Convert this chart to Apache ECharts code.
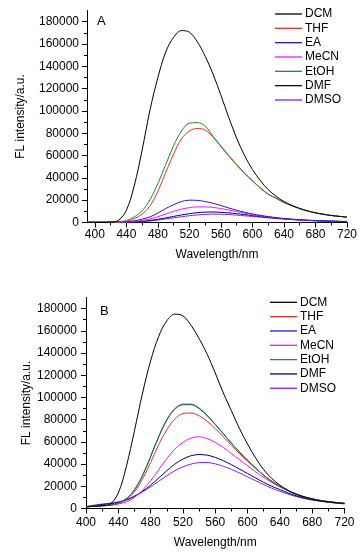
<!DOCTYPE html>
<html>
<head>
<meta charset="utf-8">
<script src="https://cdn.jsdelivr.net/npm/echarts@6/dist/echarts.min.js"></script>
<style>
html,body{margin:0;padding:0;background:#fff;}
#c{width:364px;height:555px;}
</style>
</head>
<body>
<div id="c"></div>
<script>
// ---------- Data ----------
const names = ['DCM', 'THF', 'EA', 'MeCN', 'EtOH', 'DMF', 'DMSO'];
const colors = ['#000000', '#e8302e', '#1c1cd0', '#ff10ff', '#1f8a2a', '#00007a', '#8a1cf0'];

// Panel A wavelengths (nm)
const wlA = [390,400,410,420,430,440,450,460,470,480,490,500,510,520,530,540,550,560,570,580,590,600,610,620,630,640,650,660,670,680,690,700,710,720];
const A_DCM  = [0,0,0,200,2000,11000,33000,65000,101000,130000,153000,166000,172000,170500,162000,149000,133000,114000,94000,75500,60000,47500,37500,29500,23500,18800,15300,12600,10400,8700,7400,6300,5500,4800];
const A_THF  = [0,0,0,0,300,1000,3500,7500,15000,28000,45000,61500,75000,82000,84300,82800,76500,68000,59500,51500,44000,37200,30800,25300,21600,17800,15000,12400,10300,8500,7300,6200,5500,4800];
const A_EA   = [300,400,400,500,600,700,1500,3000,5000,8500,12500,16000,18800,20000,19800,18800,17200,15200,13000,11000,9200,7700,6400,5300,4400,3600,3000,2500,2100,1800,1500,1300,1100,1000];
const A_MeCN = [200,300,300,300,300,400,900,1800,3200,5200,7700,10000,12000,13300,14000,14000,13500,12500,11200,9800,8400,7100,6000,5000,4100,3400,2800,2300,1900,1600,1300,1100,950,800];
const A_EtOH = [0,0,0,0,500,1800,5000,10500,20500,35000,52000,69000,82000,89000,89500,86400,77200,68500,60000,52000,44300,37500,31000,25500,21800,18000,15200,12500,10400,8600,7400,6300,5600,4900];
const A_DMF  = [200,200,200,200,200,200,500,1000,1800,2900,4100,5500,6800,7900,8800,9300,9400,9100,8600,7900,7100,6200,5400,4600,3900,3300,2800,2300,1900,1600,1300,1100,950,800];
const A_DMSO = [200,200,200,200,200,200,400,800,1400,2200,3200,4200,5200,6100,6800,7300,7500,7400,7100,6600,6000,5400,4800,4200,3600,3100,2600,2200,1900,1600,1300,1100,950,800];

// Panel B wavelengths (nm)
const wlB = [400,410,420,430,440,450,460,470,480,490,500,510,520,530,540,550,560,570,580,590,600,610,620,630,640,650,660,670,680,690,700,710,720];
const B_DCM  = [1500,2000,2500,4000,14000,38000,70000,104000,133000,155000,169000,175000,173500,165000,153000,139000,122000,104000,88000,72000,58000,45500,35000,27000,21000,16500,13000,10500,8500,7000,6000,5200,4500];
const B_THF  = [1500,2000,2500,3000,4500,8000,15000,26500,41500,57500,71000,80500,85500,86000,83500,78500,72000,64500,57000,49500,42500,36000,30000,24500,20000,16000,13000,10500,8700,7300,6200,5400,4700];
const B_EA   = [1500,2000,2500,3000,5000,9000,16800,29500,46500,64500,79500,89500,93500,93500,90000,83600,75600,67200,58700,50800,43300,36400,29900,24400,19900,15900,12900,10400,8600,7200,6100,5300,4600];
const B_MeCN = [1500,2000,2500,3000,4000,6000,10000,16500,25000,35000,45000,53500,59500,63500,64500,63000,59500,55000,49500,44000,38500,33000,28000,23500,19500,16000,13000,10500,8700,7300,6200,5300,4600];
const B_EtOH = [1500,2000,2500,3000,5000,9000,17000,30000,47000,65000,80000,90000,94000,94000,90500,84000,76000,67500,59000,51000,43500,36500,30000,24500,20000,16000,13000,10500,8700,7300,6200,5400,4700];
const B_DMF  = [1500,2500,3500,4300,5500,7500,11000,15500,21000,27500,34000,40000,44500,47500,48600,48000,46000,43000,39500,35500,31500,27500,23500,20000,17000,14000,11500,9500,8000,6800,5800,5000,4300];
const B_DMSO = [1800,3000,4000,4800,6000,8000,11000,15000,19500,24500,29500,34000,37500,40000,41300,41400,40200,38000,35200,32000,28500,25000,21500,18300,15500,13000,10800,9000,7600,6500,5600,4800,4200];

// Tick values
const yMajor = [0,20000,40000,60000,80000,100000,120000,140000,160000,180000];
const yMinor = [0,10000,20000,30000,40000,50000,60000,70000,80000,90000,100000,110000,120000,130000,140000,150000,160000,170000,180000];
const xMajor = [400,440,480,520,560,600,640,680,720];
const xMinor = [400,420,440,460,480,500,520,540,560,580,600,620,640,660,680,700,720];

const seriesA = [A_DCM, A_THF, A_EA, A_MeCN, A_EtOH, A_DMF, A_DMSO];
const seriesB = [B_DCM, B_THF, B_EA, B_MeCN, B_EtOH, B_DMF, B_DMSO];
// draw order (back to front)
const drawOrder = [6,5,3,2,1,4,0];

// ---------- Chart ----------
const FONT = 'Liberation Sans, Arial, sans-serif';
const chart = echarts.init(document.getElementById('c'), null, {renderer: 'canvas'});
const plain = v => String(v);

function xAxes(grid, min, labelMargin, nameGap) {
  return [
    {type:'value', gridIndex:grid, min:min, max:720, position:'bottom',
     axisLine:{show:true, onZero:false, lineStyle:{color:'#000', width:1}},
     axisTick:{show:true, inside:false, length:5, customValues:xMajor, lineStyle:{color:'#000'}},
     axisLabel:{show:true, customValues:xMajor, formatter:plain, margin:labelMargin, color:'#000', fontSize:12, fontFamily:FONT},
     splitLine:{show:false},
     name:'Wavelength/nm', nameLocation:'middle', nameGap:nameGap, nameMoveOverlap:false,
     nameTextStyle:{color:'#000', fontSize:12, fontFamily:FONT}},
    {type:'value', gridIndex:grid, min:min, max:720, position:'bottom',
     axisLine:{show:false, onZero:false},
     axisTick:{show:true, inside:false, length:3, customValues:xMinor, lineStyle:{color:'#000'}},
     axisLabel:{show:false}, splitLine:{show:false}}
  ];
}
function yAxes(grid, labelMargin, nameGap) {
  return [
    {type:'value', gridIndex:grid, min:0, max:190000, position:'left',
     axisLine:{show:true, onZero:false, lineStyle:{color:'#000', width:1}},
     axisTick:{show:true, inside:false, length:5, customValues:yMajor, lineStyle:{color:'#000'}},
     axisLabel:{show:true, customValues:yMajor, formatter:plain, margin:labelMargin, color:'#000', fontSize:12, fontFamily:FONT},
     splitLine:{show:false},
     name:'FL intensity/a.u.', nameLocation:'middle', nameGap:nameGap, nameMoveOverlap:false,
     nameTextStyle:{color:'#000', fontSize:12, fontFamily:FONT}},
    {type:'value', gridIndex:grid, min:0, max:190000, position:'left',
     axisLine:{show:false, onZero:false},
     axisTick:{show:true, inside:false, length:3, customValues:yMinor, lineStyle:{color:'#000'}},
     axisLabel:{show:false}, splitLine:{show:false}}
  ];
}

const series = [];
drawOrder.forEach(i => {
  series.push({
    name: names[i], type:'line', xAxisIndex:0, yAxisIndex:0,
    data: wlA.map((w, k) => [w, seriesA[i][k]]),
    symbol:'none', smooth:0.35, lineStyle:{width:1, color:colors[i]}, itemStyle:{color:colors[i]},
    silent:true, animation:false
  });
});
drawOrder.forEach(i => {
  series.push({
    name: names[i], type:'line', xAxisIndex:2, yAxisIndex:2,
    data: wlB.map((w, k) => [w, seriesB[i][k]]),
    symbol:'none', smooth:0.35, lineStyle:{width:1, color:colors[i]}, itemStyle:{color:colors[i]},
    silent:true, animation:false
  });
});

const legendCommon = {
  orient:'vertical', data:names, icon:'rect', itemWidth:27, itemHeight:1.3, itemGap:0.33,
  textStyle:{color:'#000', fontSize:12, fontFamily:FONT, lineHeight:14, padding:[0,0,0,-2]},
  selectedMode:false, padding:0
};

chart.setOption({
  animation:false,
  backgroundColor:'#fff',
  grid:[
    {left:87, top:10.5, width:260, height:212, containLabel:false},
    {left:86, top:297.5, width:258.5, height:211, containLabel:false}
  ],
  xAxis:[...xAxes(0, 390, 6, 26), ...xAxes(1, 400, 8, 28)],
  yAxis:[...yAxes(0, 8, 60), ...yAxes(1, 9, 53)],
  legend:[
    Object.assign({left:275, top:7}, legendCommon),
    Object.assign({left:270, top:295.3}, legendCommon)
  ],
  graphic:[
    {type:'text', left:97, top:15, style:{text:'A', fill:'#000', font:'13px ' + FONT}},
    {type:'text', left:100, top:305, style:{text:'B', fill:'#000', font:'13px ' + FONT}}
  ],
  series:series
});
</script>
</body>
</html>
